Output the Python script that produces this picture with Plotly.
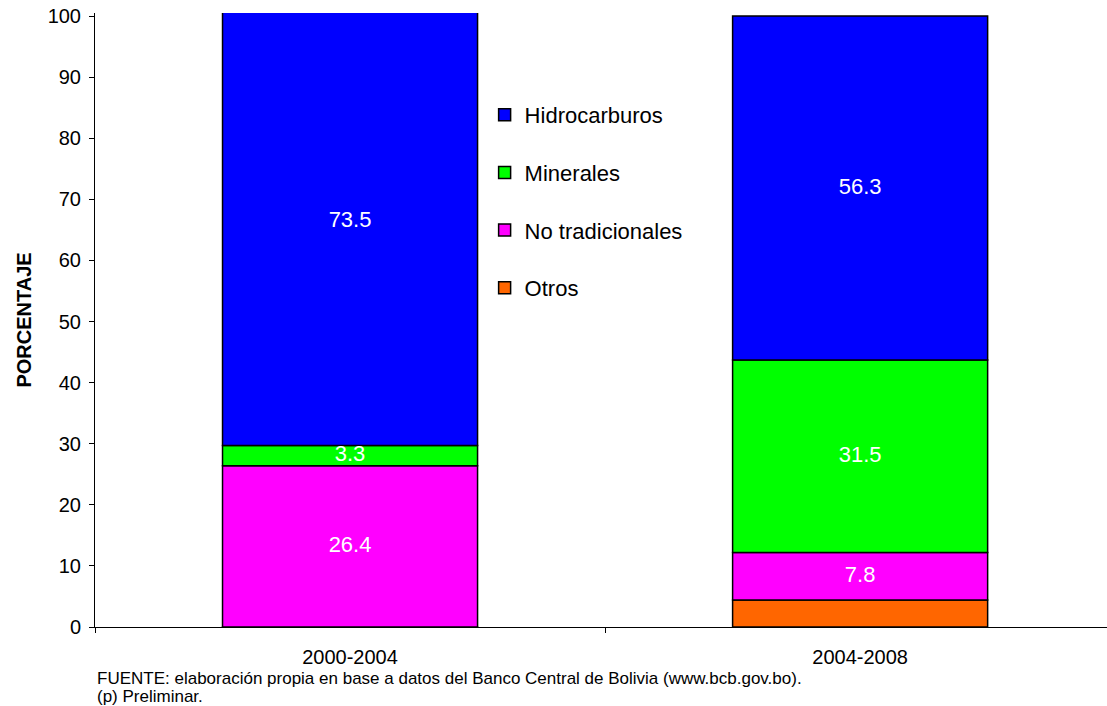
import plotly.graph_objects as go

periods = ["2000-2004", "2004-2008"]
otros = [-3.2, 4.4]
no_tradicionales = [26.4, 7.8]
minerales = [3.3, 31.5]
hidrocarburos = [73.5, 56.3]

series = [
    ("Otros", otros, "#FF6600", False),
    ("No tradicionales", no_tradicionales, "#FF00FF", True),
    ("Minerales", minerales, "#00FF00", True),
    ("Hidrocarburos", hidrocarburos, "#0000FF", True),
]

FONT = "Liberation Sans, Arial, sans-serif"

fig = go.Figure()
for rank, (name, vals, color, labelled) in enumerate(series):
    fig.add_trace(go.Bar(
        x=periods, y=vals, name=name,
        marker=dict(color=color, line=dict(color="#000000", width=1.5)),
        legendgroup=name, legendrank=100 - rank,
        hoverinfo="skip",
    ))

# value labels centred in each positive segment
lab_x, lab_y, lab_t = [], [], []
for i, p in enumerate(periods):
    base = 0.0
    for name, vals, color, labelled in series:
        v = vals[i]
        if v <= 0:
            continue
        if labelled:
            lab_x.append(p)
            lab_y.append(base + v / 2)
            lab_t.append(f"{v:.1f}")
        base += v
fig.add_trace(go.Scatter(
    x=lab_x, y=lab_y, text=lab_t, mode="text",
    textfont=dict(family=FONT, size=22, color="#FFFFFF"),
    showlegend=False, hoverinfo="skip", cliponaxis=False,
))

fig.update_layout(
    barmode="relative",
    bargap=0.5,
    width=1107, height=706,
    margin=dict(l=95, r=0, t=13, b=79),
    paper_bgcolor="#FFFFFF", plot_bgcolor="#FFFFFF",
    font=dict(family=FONT, size=20, color="#000000"),
    showlegend=True,
    legend=dict(
        x=0.385, y=0.868, xanchor="left", yanchor="top",
        traceorder="grouped", tracegroupgap=26,
        font=dict(family=FONT, size=22),
        itemwidth=30, bgcolor="rgba(0,0,0,0)",
    ),
    xaxis=dict(
        range=[-0.5, 1.484],
        showline=True, linecolor="#000000", linewidth=1,
        ticks="outside", tickson="boundaries", ticklen=5, tickcolor="#000000",
        ticklabelstandoff=12,
        tickfont=dict(size=20), showgrid=False, zeroline=False,
    ),
    yaxis=dict(
        range=[0, 100.5], tickvals=list(range(0, 101, 10)),
        showline=True, linecolor="#000000", linewidth=1,
        ticks="outside", ticklen=5, tickcolor="#000000",
        ticklabelstandoff=4,
        tickfont=dict(size=20), showgrid=False, zeroline=False,
        title=dict(text="<b>PORCENTAJE</b>", font=dict(size=20), standoff=10),
    ),
    annotations=[
        dict(text="FUENTE: elaboración propia en base a datos del Banco Central de Bolivia (www.bcb.gov.bo).",
             xref="paper", yref="paper", x=0, y=-0.0831, xanchor="left", yanchor="middle",
             showarrow=False, font=dict(size=17)),
        dict(text="(p) Preliminar.",
             xref="paper", yref="paper", x=0, y=-0.1140, xanchor="left", yanchor="middle",
             showarrow=False, font=dict(size=17)),
    ],
)

fig.write_html("out.html")
